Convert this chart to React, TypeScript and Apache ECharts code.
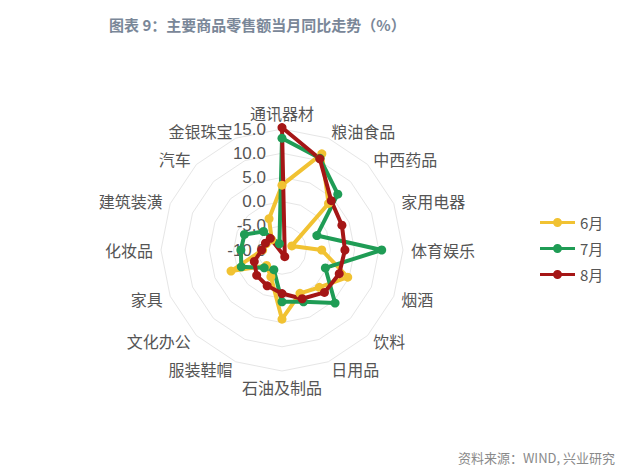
import React, { useEffect, useRef } from "react";
import * as echarts from "echarts";

// Indicators in clockwise order starting from the top
const indicators = [
  "通讯器材", "粮油食品", "中西药品", "家用电器", "体育娱乐", "烟酒", "饮料", "日用品",
  "石油及制品", "服装鞋帽", "文化办公", "家具", "化妆品", "建筑装潢", "汽车", "金银珠宝",
];
const seriesNames = ["6月", "7月", "8月"];
const jun = [3.4, 11.5, 3.6, -7.8, -1.8, 4.7, 0.9, -0.3, 4.3, -4.0, -5.5, 1.4, -6.0, -6.5, -7.0, -3.0];
const jul = [13.1, 10.5, 6.3, -2.2, 10.6, -0.3, 5.5, 1.6, 0.7, -5.6, -4.8, -0.9, -1.5, -1.6, -4.6, -8.6];
const aug = [15.3, 10.4, 4.4, 3.4, 3.0, 2.8, 2.4, 0.9, -1.0, -2.0, -2.6, -3.8, -5.8, -6.3, -6.6, -11.5];
const axisMin = -10;
const axisMax = 15;

const colors = ["#f1c232", "#1f9c55", "#a51616"];
const FONT = "'Noto Sans CJK SC', 'Noto Sans', sans-serif";

export default function App() {
  const ref = useRef<HTMLDivElement>(null);
  useEffect(() => {
    if (!ref.current) return;
    const chart = echarts.init(ref.current, undefined, { renderer: "svg" });
    // ECharts places radar indicators counter-clockwise; reorder to get clockwise layout
    const order = [0, ...Array.from({ length: indicators.length - 1 }, (_, k) => indicators.length - 1 - k)];
    const reorder = (arr: number[]) => order.map((i) => arr[i]);
    const allData = [jun, jul, aug];
    const legendIcon =
      "path://M0,4.5 L35,4.5 L35,7.5 L0,7.5 Z M13,6 A4.5,4.5 0 1,1 22,6 A4.5,4.5 0 1,1 13,6 Z";
    chart.setOption({
      animation: false,
      textStyle: { fontFamily: FONT },
      title: [
        {
          text: "图表 9：主要商品零售额当月同比走势（%）",
          left: 104,
          top: 12,
          textStyle: { fontSize: 15, fontWeight: "bold", color: "#7a8798", fontFamily: FONT },
        },
        {
          text: "资料来源：WIND, 兴业研究",
          right: 20,
          top: 446,
          textStyle: { fontSize: 13, fontWeight: "normal", color: "#8a8a8a", fontFamily: FONT },
        },
      ],
      legend: {
        data: seriesNames,
        orient: "vertical",
        left: 535,
        top: 210,
        itemWidth: 35,
        itemHeight: 9,
        itemGap: 11,
        icon: legendIcon,
        textStyle: { fontSize: 15, color: "#555", fontFamily: FONT },
      },
      radar: {
        center: [282, 250],
        radius: 121,
        startAngle: 90,
        splitNumber: 5,
        shape: "polygon",
        nameGap: 8,
        axisName: { color: "#555", fontSize: 16, fontFamily: FONT },
        indicator: order.map((i) => ({
          name: indicators[i],
          min: axisMin,
          max: axisMax,
          ...(i === 0 ? { axisLabel: { show: true } } : {}),
        })),
        splitLine: { lineStyle: { color: "#e6e6e6", width: 1 } },
        splitArea: { show: false },
        axisLine: { show: false },
        axisTick: { show: false },
        axisLabel: {
          show: false,
          color: "#555",
          fontSize: 17,
          fontFamily: "'Liberation Sans', Arial, sans-serif",
          margin: 16,
          formatter: (v: number) => v.toFixed(1),
        },
      },
      series: [
        {
          type: "radar",
          symbol: "circle",
          symbolSize: 9,
          data: allData.map((arr, k) => ({
            name: seriesNames[k],
            value: reorder(arr),
            lineStyle: { color: colors[k], width: 4 },
            itemStyle: { color: colors[k] },
          })),
        },
      ],
    });
    return () => chart.dispose();
  }, []);
  return (
    <div
      ref={ref}
      style={{ position: "absolute", left: 0, top: 0, width: 640, height: 475, background: "#fff" }}
    />
  );
}
